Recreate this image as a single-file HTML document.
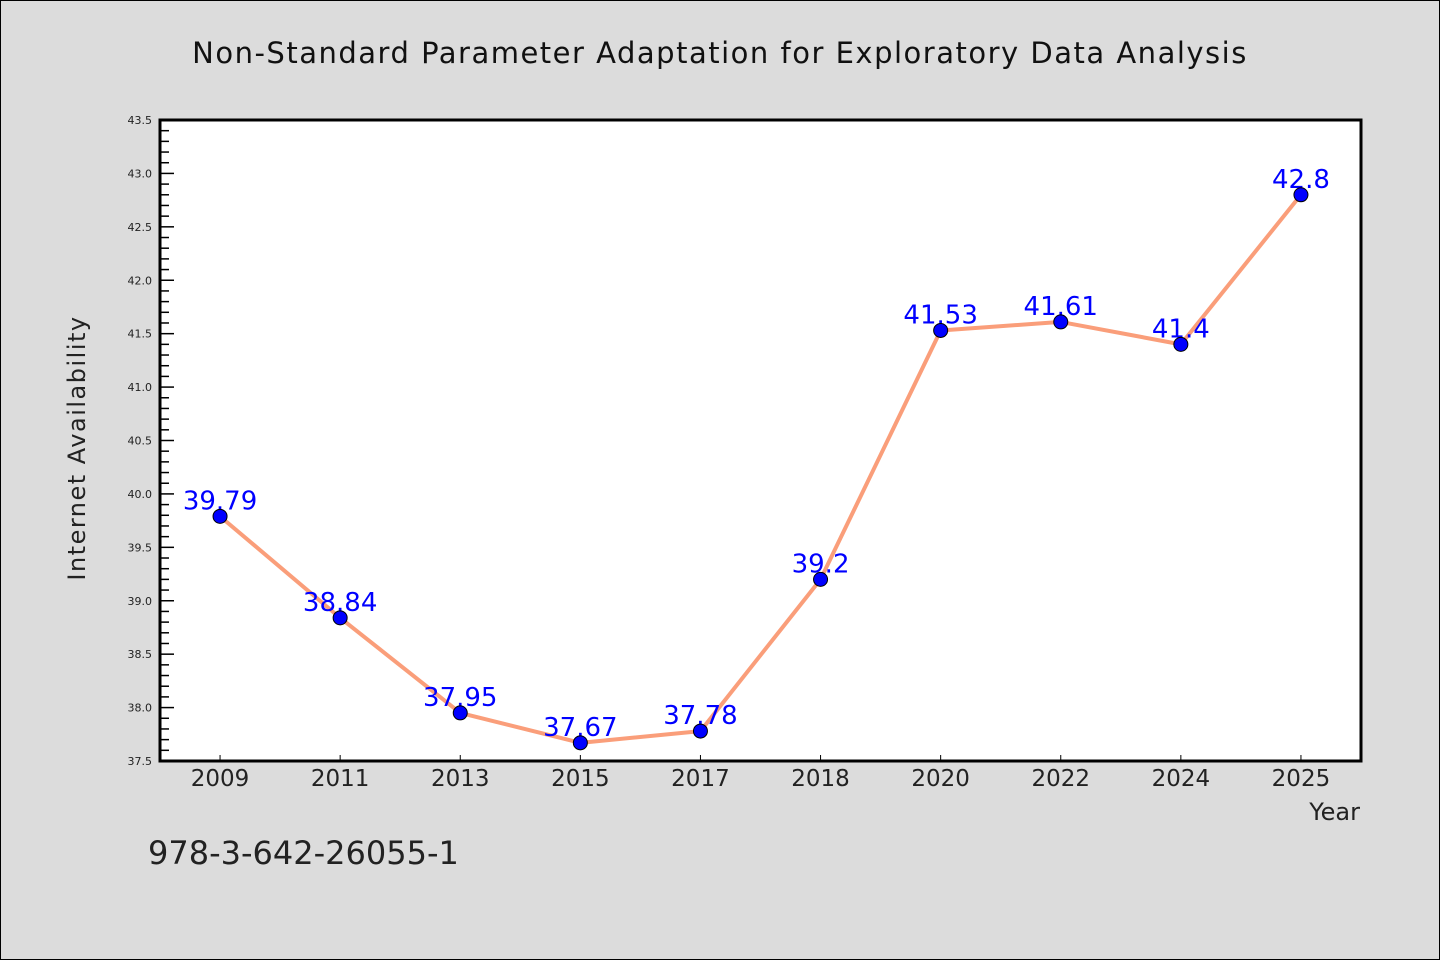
<!DOCTYPE html>
<html><head><meta charset="utf-8"><style>
html,body{margin:0;padding:0;background:#dcdcdc}
svg{display:block;font-family:"WenQuanYi Zen Hei","DejaVu Sans",sans-serif}
</style></head><body>
<svg id="chart" width="1440" height="960" viewBox="0 0 1440 960" xmlns="http://www.w3.org/2000/svg">
<rect x="0.5" y="0.5" width="1439" height="959" fill="#dcdcdc" stroke="#000" stroke-width="1"/>
<text x="720" y="63" font-size="29" text-anchor="middle" fill="#111" letter-spacing="1.5">Non-Standard Parameter Adaptation for Exploratory Data Analysis</text>
<rect x="160" y="120" width="1201" height="641" fill="#fff"/>
<g id="grid"></g>
<g id="series"></g>
<rect x="160" y="120" width="1201" height="641" fill="none" stroke="#000" stroke-width="3"/>
<text transform="translate(85,448) rotate(-90)" font-size="24" text-anchor="middle" fill="#222" letter-spacing="1.5">Internet Availability</text>
<text x="1360" y="820" font-size="24" text-anchor="end" fill="#222">Year</text>
<text x="148" y="864" font-size="32" fill="#222">978-3-642-26055-1</text>
</svg>
<script>
const categories = ["2009","2011","2013","2015","2017","2018","2020","2022","2024","2025"];
const values = [39.79,38.84,37.95,37.67,37.78,39.2,41.53,41.61,41.4,42.8];
const labels = ["39.79","38.84","37.95","37.67","37.78","39.2","41.53","41.61","41.4","42.8"];
const yTicks = ["37.5","38.0","38.5","39.0","39.5","40.0","40.5","41.0","41.5","42.0","42.5","43.0","43.5"];
const NS="http://www.w3.org/2000/svg";
const L=160,R=1361,T=120,B=761,yMin=37.5,yMax=43.5;
const step=(R-L)/categories.length;
const x=i=>L+step*(i+0.5);
const y=v=>B-(v-yMin)/(yMax-yMin)*(B-T);
function mk(tag,attrs,parent,txt){const e=document.createElementNS(NS,tag);for(const k in attrs)e.setAttribute(k,attrs[k]);if(txt!==undefined)e.textContent=txt;parent.appendChild(e);return e;}
const g=document.getElementById('grid'),s=document.getElementById('series');
for(let k=0;k<=60;k++){const v=yMin+k*0.1;const yy=y(v);const major=k%5===0;
 const t=mk('line',{x1:L,x2:L+(major?14:9),y1:yy,y2:yy,stroke:'#000','stroke-width':1.5},g);
 
 }
yTicks.forEach(lbl=>{const t=mk('text',{x:L-8,y:y(parseFloat(lbl))+4,'font-size':11,'text-anchor':'end',fill:'#222'},g,lbl);
 
 });
categories.forEach((c,i)=>{const t=mk('line',{x1:x(i),x2:x(i),y1:B,y2:B-6,stroke:'#000','stroke-width':1},g);
 
 
 const l=mk('text',{x:x(i),y:B+25,'font-size':23,'text-anchor':'middle',fill:'#222'},g,c);
 
 });
const pts=values.map((v,i)=>x(i)+','+y(v)).join(' ');
const line=mk('polyline',{points:pts,fill:'none',stroke:'#fa9e7a','stroke-width':4,'stroke-linejoin':'round'},s);


values.forEach((v,i)=>{const t=mk('text',{x:x(i),y:y(v)-7,'font-size':26,'text-anchor':'middle',fill:'#0000ff'},s,labels[i]);
 
 });
values.forEach((v,i)=>{const c=mk('circle',{cx:x(i),cy:y(v),r:7,fill:'#0000ff',stroke:'#000','stroke-width':1},s);
 
 });
</script>
</body></html>
